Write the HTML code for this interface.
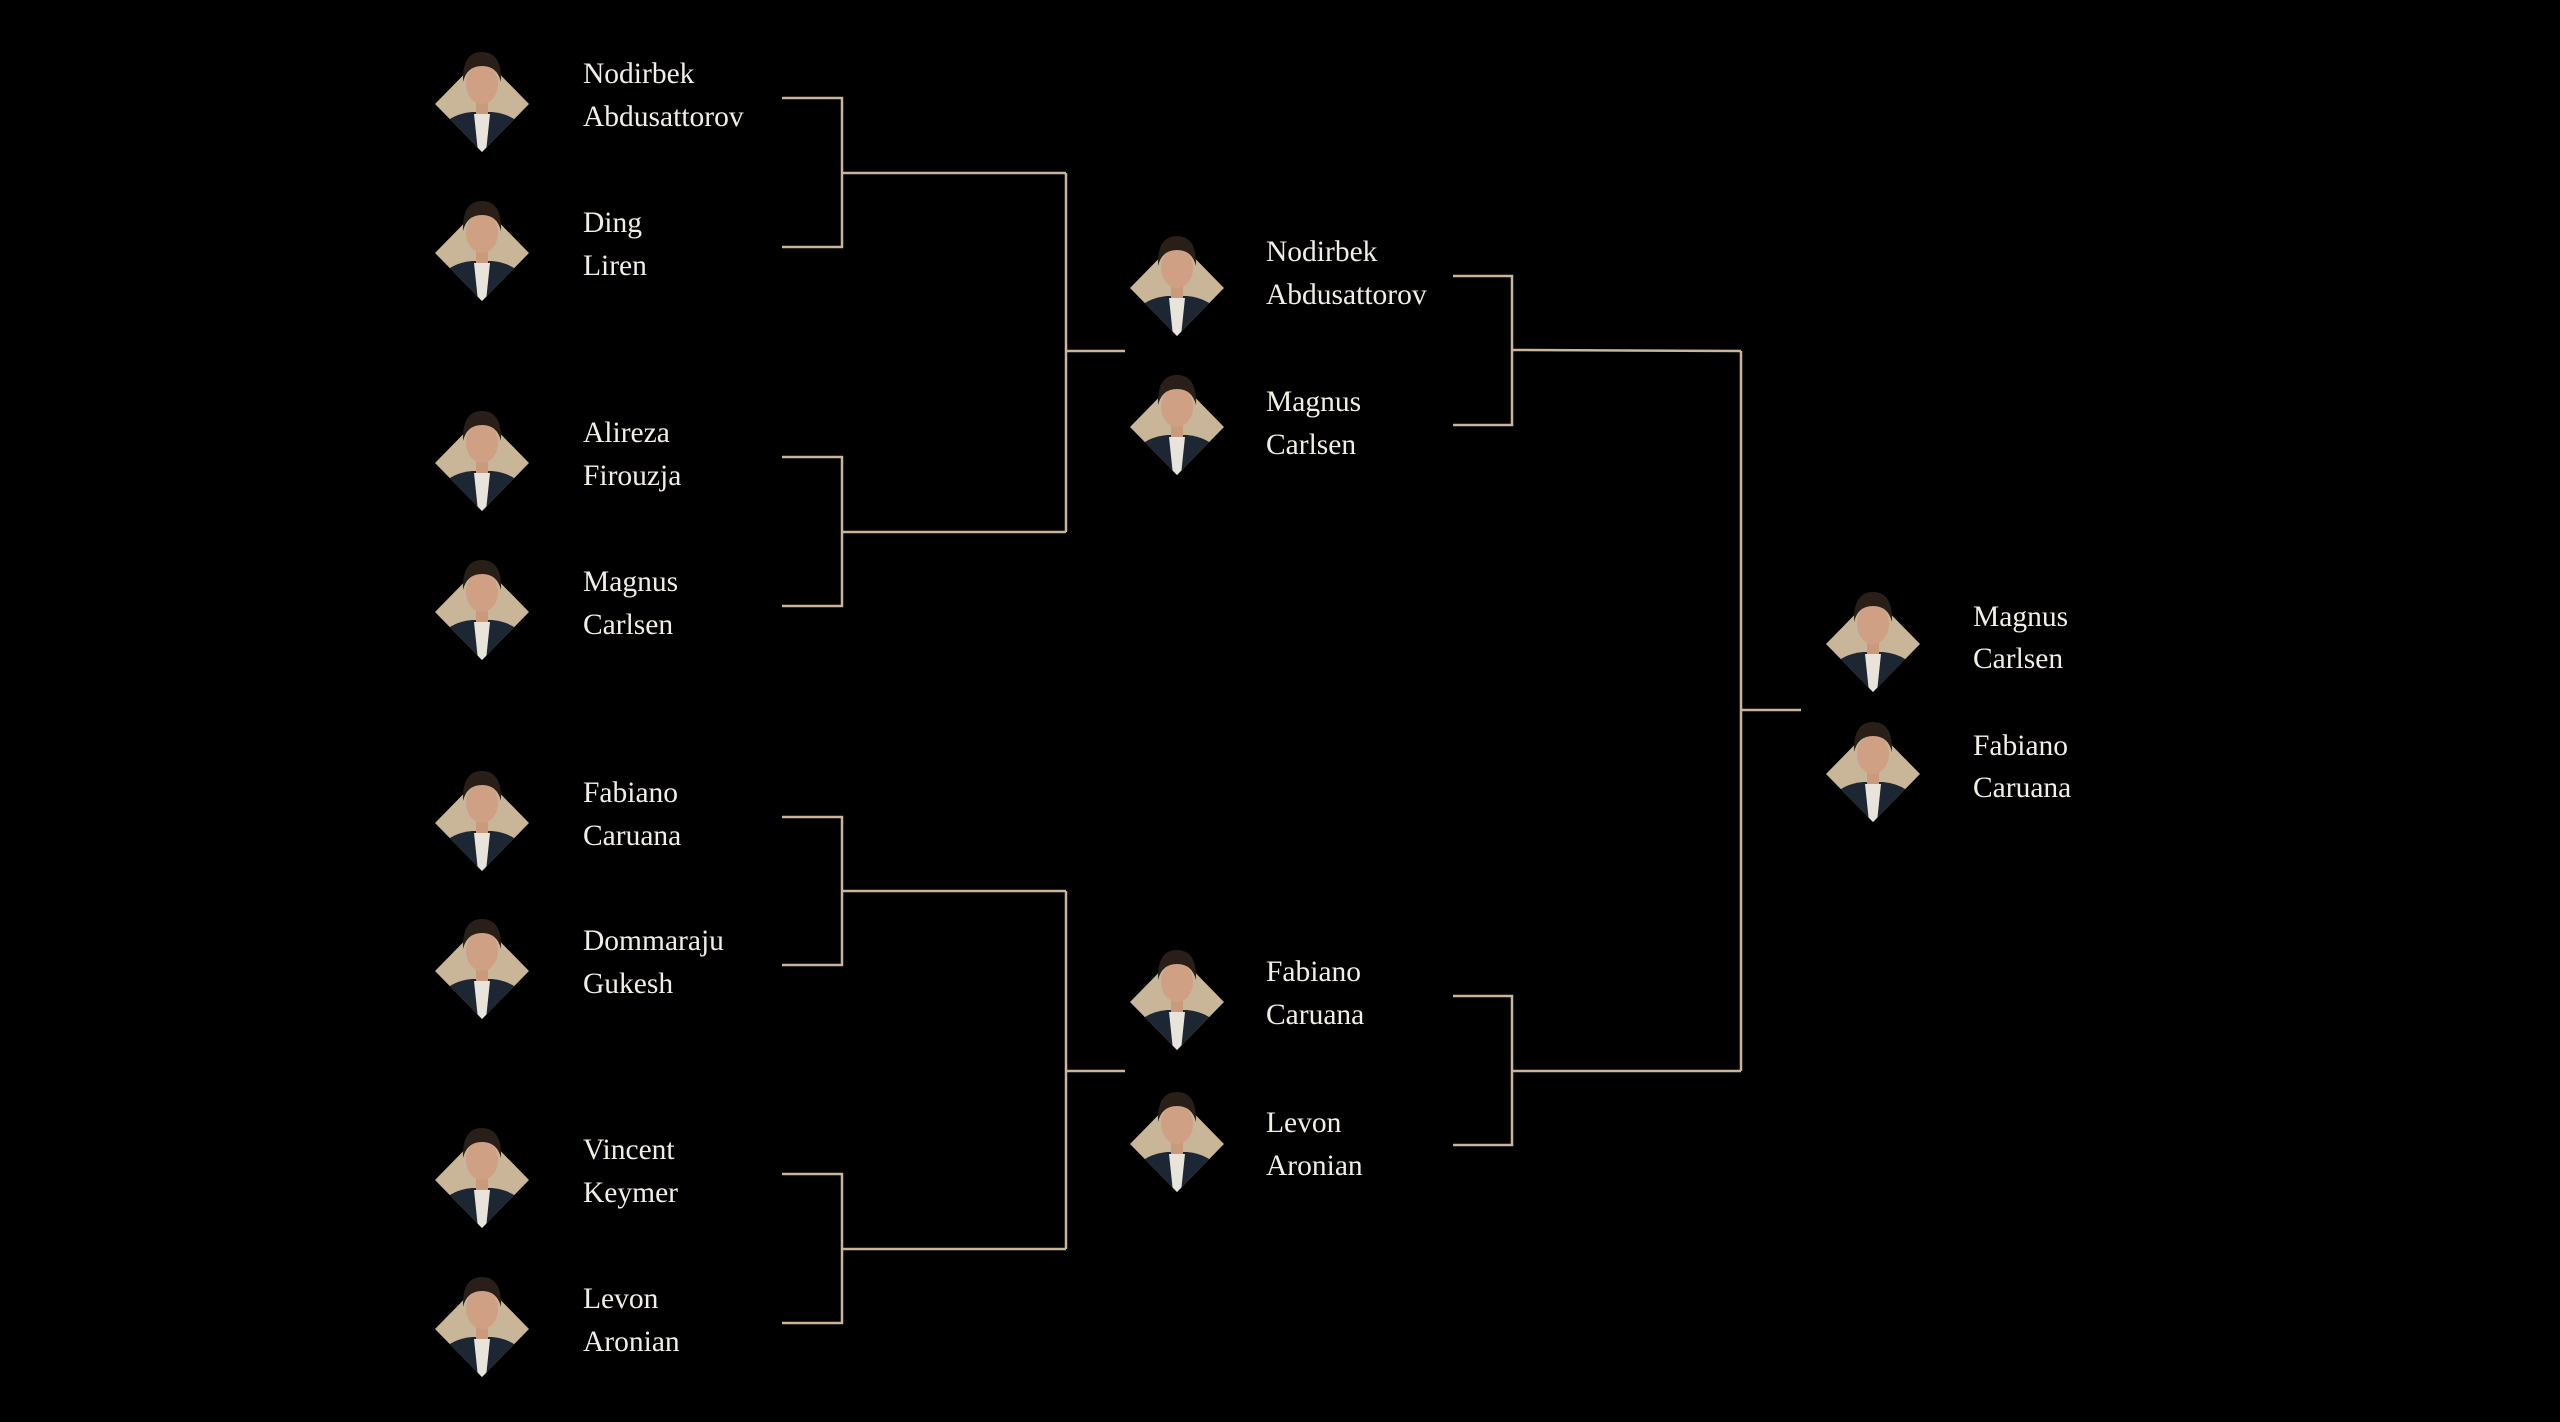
<!DOCTYPE html>
<html><head><meta charset="utf-8"><style>
html,body{margin:0;padding:0;background:#000;}
svg{display:block}
text{font-family:"Liberation Serif",serif;font-size:29.5px;fill:#f2eee6;}
</style></head><body>
<svg width="2560" height="1422" viewBox="0 0 2560 1422" xmlns="http://www.w3.org/2000/svg">
<defs>
<clipPath id="dc"><polygon points="-47,0 0,-48 47,0 0,48"/></clipPath>
<g id="av">
<polygon points="-47,0 0,-48 47,0 0,48" fill="#c9b597"/>
<g clip-path="url(#dc)">
<path d="M-40,48 L-40,22 Q-30,10 -10,8 L10,8 Q30,10 40,22 L40,48 Z" fill="#1d2633"/>
<path d="M-8,10 L8,10 L4,48 L-4,48 Z" fill="#e8e4dc"/>
</g>
<rect x="-6" y="-4" width="12" height="14" fill="#c99a7c"/>
<ellipse cx="0" cy="-20" rx="16" ry="20" fill="#d0a084"/>
<path d="M-19,-22 Q-20,-52 0,-52 Q20,-52 19,-22 Q15,-38 0,-38 Q-15,-38 -19,-22 Z" fill="#2a1f18"/>
</g>
</defs>
<g fill="none" stroke="#c9b597" stroke-width="2.5">
<polyline points="782,98 842,98 842,247 782,247"/>
<polyline points="782,457 842,457 842,606 782,606"/>
<polyline points="782,817 842,817 842,965 782,965"/>
<polyline points="782,1174 842,1174 842,1323 782,1323"/>
<line x1="842" y1="173" x2="1066" y2="173"/>
<line x1="842" y1="532" x2="1066" y2="532"/>
<line x1="842" y1="891" x2="1066" y2="891"/>
<line x1="842" y1="1249" x2="1066" y2="1249"/>
<line x1="1066" y1="173" x2="1066" y2="532"/>
<line x1="1066" y1="891" x2="1066" y2="1249"/>
<line x1="1066" y1="351" x2="1125" y2="351"/>
<line x1="1066" y1="1071" x2="1125" y2="1071"/>
<polyline points="1453,276 1512,276 1512,425 1453,425"/>
<polyline points="1453,996 1512,996 1512,1145 1453,1145"/>
<line x1="1512" y1="350" x2="1741" y2="351"/>
<line x1="1512" y1="1071" x2="1741" y2="1071"/>
<line x1="1741" y1="351" x2="1741" y2="1071"/>
<line x1="1741" y1="710" x2="1801" y2="710"/>
</g>
<use href="#av" x="482" y="104"/><text x="583" y="83">Nodirbek</text><text x="583" y="126">Abdusattorov</text>
<use href="#av" x="482" y="253"/><text x="583" y="232">Ding</text><text x="583" y="275">Liren</text>
<use href="#av" x="482" y="463"/><text x="583" y="442">Alireza</text><text x="583" y="485">Firouzja</text>
<use href="#av" x="482" y="612"/><text x="583" y="591">Magnus</text><text x="583" y="634">Carlsen</text>
<use href="#av" x="482" y="823"/><text x="583" y="802">Fabiano</text><text x="583" y="845">Caruana</text>
<use href="#av" x="482" y="971"/><text x="583" y="950">Dommaraju</text><text x="583" y="993">Gukesh</text>
<use href="#av" x="482" y="1180"/><text x="583" y="1159">Vincent</text><text x="583" y="1202">Keymer</text>
<use href="#av" x="482" y="1329"/><text x="583" y="1308">Levon</text><text x="583" y="1351">Aronian</text>
<use href="#av" x="1177" y="288"/><text x="1266" y="261">Nodirbek</text><text x="1266" y="304">Abdusattorov</text>
<use href="#av" x="1177" y="427"/><text x="1266" y="411">Magnus</text><text x="1266" y="454">Carlsen</text>
<use href="#av" x="1177" y="1002"/><text x="1266" y="981">Fabiano</text><text x="1266" y="1024">Caruana</text>
<use href="#av" x="1177" y="1144"/><text x="1266" y="1132">Levon</text><text x="1266" y="1175">Aronian</text>
<use href="#av" x="1873" y="644"/><text x="1973" y="626">Magnus</text><text x="1973" y="668">Carlsen</text>
<use href="#av" x="1873" y="774"/><text x="1973" y="755">Fabiano</text><text x="1973" y="797">Caruana</text>
</svg>
</body></html>
